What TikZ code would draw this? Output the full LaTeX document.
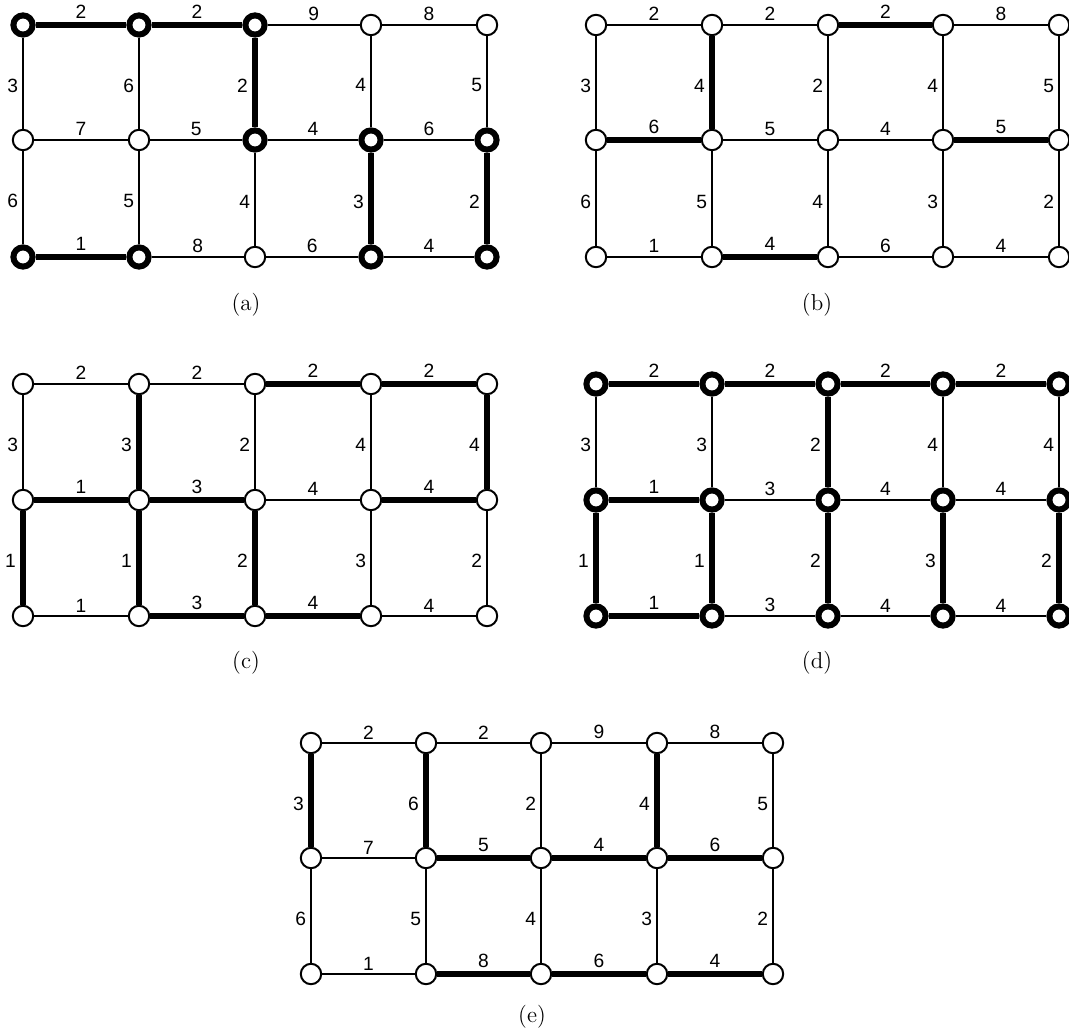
\documentclass[tikz,border=0pt]{standalone}
\usepackage{fontspec}
\usepackage{tikz}
\usetikzlibrary{positioning}
\newfontfamily\lblfont{Liberation Sans}

\begin{document}
\begin{tikzpicture}[
  x=0.5pt, y=-0.5pt,
  vert/.style={
    circle, draw=black, fill=white, line width=1pt,
    minimum size=10.2pt, inner sep=0pt
  },
  bvert/.style={
    circle, draw=black, fill=white, line width=3pt,
    minimum size=9.6pt, inner sep=0pt
  },
  thn/.style={line width=1pt, black},
  thk/.style={line width=3.2pt, black},
  hlab/.style={above, inner sep=1.5pt, font=\lblfont\fontsize{9.6}{11}\selectfont},
  vlab/.style={left, inner sep=2pt, yshift=-1.5pt, font=\lblfont\fontsize{9.6}{11}\selectfont},
  capt/.style={font=\fontsize{11.5}{13}\selectfont},
]
\useasboundingbox (0,0) rectangle (1069,1036);

% (a)
\foreach \c/\r/\s/\x/\y in {1/1/bvert/23/25, 2/1/bvert/139/25, 3/1/bvert/255/25, 4/1/vert/371/25, 5/1/vert/487/25,
  1/2/vert/23/140, 2/2/vert/139/140, 3/2/bvert/255/140, 4/2/bvert/371/140, 5/2/bvert/487/140,
  1/3/bvert/23/257, 2/3/bvert/139/257, 3/3/vert/255/257, 4/3/bvert/371/257, 5/3/bvert/487/257}
  \node[\s] (a\c\r) at (\x,\y) {};
\foreach \p/\q/\w/\s in {11/21/2/thk, 21/31/2/thk, 31/41/9/thn, 41/51/8/thn,
  12/22/7/thn, 22/32/5/thn, 32/42/4/thn, 42/52/6/thn,
  13/23/1/thk, 23/33/8/thn, 33/43/6/thn, 43/53/4/thn}
  \draw[\s] (a\p) -- node[hlab] {\w} (a\q);
\foreach \p/\q/\w/\s in {11/12/3/thn, 21/22/6/thn, 31/32/2/thk, 41/42/4/thn, 51/52/5/thn,
  12/13/6/thn, 22/23/5/thn, 32/33/4/thn, 42/43/3/thk, 52/53/2/thk}
  \draw[\s] (a\p) -- node[vlab] {\w} (a\q);
\node[capt] (capa) at (246,305) {(a)};

% (b)
\foreach \c/\x in {1/596, 2/712, 3/828, 4/943, 5/1059}
  \foreach \r/\y in {1/25, 2/140, 3/257}
    \node[vert] (b\c\r) at (\x,\y) {};
\foreach \p/\q/\w/\s in {11/21/2/thn, 21/31/2/thn, 31/41/2/thk, 41/51/8/thn,
  12/22/6/thk, 22/32/5/thn, 32/42/4/thn, 42/52/5/thk,
  13/23/1/thn, 23/33/4/thk, 33/43/6/thn, 43/53/4/thn}
  \draw[\s] (b\p) -- node[hlab] {\w} (b\q);
\foreach \p/\q/\w/\s in {11/12/3/thn, 21/22/4/thk, 31/32/2/thn, 41/42/4/thn, 51/52/5/thn,
  12/13/6/thn, 22/23/5/thn, 32/33/4/thn, 42/43/3/thn, 52/53/2/thn}
  \draw[\s] (b\p) -- node[vlab] {\w} (b\q);
\node[capt] (capb) at (817,305) {(b)};

% (c)
\foreach \c/\x in {1/23, 2/139, 3/255, 4/371, 5/487}
  \foreach \r/\y in {1/384, 2/500, 3/616}
    \node[vert] (c\c\r) at (\x,\y) {};
\foreach \p/\q/\w/\s in {11/21/2/thn, 21/31/2/thn, 31/41/2/thk, 41/51/2/thk,
  12/22/1/thk, 22/32/3/thk, 32/42/4/thn, 42/52/4/thk,
  13/23/1/thn, 23/33/3/thk, 33/43/4/thk, 43/53/4/thn}
  \draw[\s] (c\p) -- node[hlab] {\w} (c\q);
\foreach \p/\q/\w/\s in {11/12/3/thn, 21/22/3/thk, 31/32/2/thn, 41/42/4/thn, 51/52/4/thk,
  12/13/1/thk, 22/23/1/thk, 32/33/2/thk, 42/43/3/thn, 52/53/2/thn}
  \draw[\s] (c\p) -- node[vlab] {\w} (c\q);
\node[capt] (capc) at (246,663) {(c)};

% (d)
\foreach \c/\x in {1/596, 2/712, 3/828, 4/943, 5/1059}
  \foreach \r/\y in {1/384, 2/500, 3/616}
    \node[bvert] (d\c\r) at (\x,\y) {};
\foreach \p/\q/\w/\s in {11/21/2/thk, 21/31/2/thk, 31/41/2/thk, 41/51/2/thk,
  12/22/1/thk, 22/32/3/thn, 32/42/4/thn, 42/52/4/thn,
  13/23/1/thk, 23/33/3/thn, 33/43/4/thn, 43/53/4/thn}
  \draw[\s] (d\p) -- node[hlab] {\w} (d\q);
\foreach \p/\q/\w/\s in {11/12/3/thn, 21/22/3/thn, 31/32/2/thk, 41/42/4/thn, 51/52/4/thn,
  12/13/1/thk, 22/23/1/thk, 32/33/2/thk, 42/43/3/thk, 52/53/2/thk}
  \draw[\s] (d\p) -- node[vlab] {\w} (d\q);
\node[capt] (capd) at (817,663) {(d)};

% (e)
\foreach \c/\x in {1/311, 2/426, 3/541, 4/657, 5/773}
  \foreach \r/\y in {1/743, 2/858, 3/974}
    \node[vert] (e\c\r) at (\x,\y) {};
\foreach \p/\q/\w/\s in {11/21/2/thn, 21/31/2/thn, 31/41/9/thn, 41/51/8/thn,
  12/22/7/thn, 22/32/5/thk, 32/42/4/thk, 42/52/6/thk,
  13/23/1/thn, 23/33/8/thk, 33/43/6/thk, 43/53/4/thk}
  \draw[\s] (e\p) -- node[hlab] {\w} (e\q);
\foreach \p/\q/\w/\s in {11/12/3/thk, 21/22/6/thk, 31/32/2/thn, 41/42/4/thk, 51/52/5/thn,
  12/13/6/thn, 22/23/5/thn, 32/33/4/thn, 42/43/3/thn, 52/53/2/thn}
  \draw[\s] (e\p) -- node[vlab] {\w} (e\q);
\node[capt] (cape) at (532,1017) {(e)};

\end{tikzpicture}
\end{document}
